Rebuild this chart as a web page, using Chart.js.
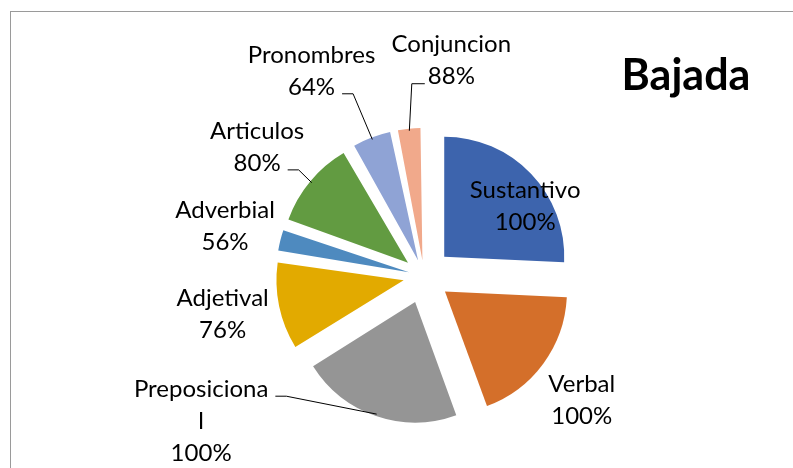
<!DOCTYPE html>
<html>
<head>
<meta charset="utf-8">
<script src="https://cdn.jsdelivr.net/npm/chart.js@4.4.1/dist/chart.umd.min.js"></script>
<style>
    html, body { margin: 0; padding: 0; background: #fff; overflow: hidden; }
    #wrap { position: relative; width: 793px; height: 468px; overflow: hidden; }
    #frame { position: absolute; left: 10px; top: 11px; width: 820px; height: 520px; border: 1px solid #9a9a9a; }
    #chart { position: absolute; left: 0; top: 0; }
</style>
</head>
<body>
<div id="wrap">
    <div id="frame"></div>
    <canvas id="chart" width="793" height="468"></canvas>
</div>
<script>
const title = "Bajada"
const categories = ["Sustantivo", "Verbal", "Preposicional", "Adjetival", "Adverbial", "Articulos", "Pronombres", "Conjuncion"]
const values = [25.7, 18.7, 21.6, 11.3, 3.0, 11.3, 5.1, 3.2]
const percentLabels = ["100%", "100%", "100%", "76%", "56%", "80%", "64%", "88%"]

const colors = ['#3d64ad', '#d46f2a', '#959595', '#e2aa00', '#4e8abf', '#629b41', '#8fa3d5', '#f1a98b']

// where excel put each label: distance from pie centre, extra turn (deg), leader line
const labelPlace = [
    { dist: 123, turn: 9 },
    { dist: 201, turn: 2 },
    { dist: 266, turn: 38, leader: { line: 0, side: 'right' } },
    { dist: 205, turn: 1 },
    { dist: 205, turn: 0 },
    { dist: 211, turn: -2, leader: { line: 1, side: 'right' } },
    { dist: 234, turn: -8, leader: { line: 1, side: 'right' } },
    { dist: 217, turn: 13, leader: { line: 1, side: 'left' } },
]

const explode = 28   // px every slice is pulled out
const pieRadius = 120
const labelFont = '24px Lato'
const lineH = 32
const wrapWidth = 140

// chart.js moves an arc by offset/4 * (2 - sin(circ)); undo that so all move the same
function arcShift(offset, circ) {
    return offset / 4 * (2 - Math.sin(Math.min(Math.PI, circ)))
}

function wrapText(ctx, text) {
    if (ctx.measureText(text).width <= wrapWidth) return [text]
    const out = []
    let cur = ''
    for (const ch of text) {
        if (ctx.measureText(cur + ch).width > wrapWidth && cur) {
            out.push(cur)
            cur = ch
        } else {
            cur += ch
        }
    }
    out.push(cur)
    return out
}

const labelPlugin = {
    id: 'excelLabels',
    afterDatasetsDraw(chart) {
        const ctx = chart.ctx
        const arcs = chart.getDatasetMeta(0).data
        ctx.save()
        ctx.font = labelFont
        ctx.fillStyle = '#000'
        ctx.textAlign = 'center'
        ctx.textBaseline = 'middle'

        arcs.forEach((arc, i) => {
            const mid = (arc.startAngle + arc.endAngle) / 2
            const place = labelPlace[i]
            const a = mid + place.turn * Math.PI / 180
            const lx = arc.x + Math.cos(a) * place.dist
            const ly = arc.y + Math.sin(a) * place.dist

            const lines = wrapText(ctx, categories[i]).concat([percentLabels[i]])
            const top = ly - (lines.length - 1) * lineH / 2
            lines.forEach((t, k) => ctx.fillText(t, lx, top + k * lineH))

            if (place.leader) {
                const k = place.leader.line
                const w = ctx.measureText(lines[k]).width
                const y = top + k * lineH + 7
                const sx = place.leader.side === 'right' ? lx + w / 2 + 7 : lx - w / 2 - 3
                const kx = place.leader.side === 'right' ? sx + 11 : sx - 13
                const shift = arcShift(arc.options.offset, arc.endAngle - arc.startAngle)
                const r = shift + arc.outerRadius - 2
                const px = arc.x + Math.cos(mid) * r
                const py = arc.y + Math.sin(mid) * r
                ctx.beginPath()
                ctx.strokeStyle = '#000'
                ctx.lineWidth = 1
                ctx.moveTo(sx, y)
                ctx.lineTo(kx, y)
                ctx.lineTo(px, py)
                ctx.stroke()
            }
        })

        ctx.font = 'bold 43px Lato'
        ctx.textBaseline = 'alphabetic'
        ctx.fillText(title, 686, 90)
        ctx.restore()
    }
}

const total = values.reduce((s, v) => s + v, 0)

new Chart(document.getElementById('chart'), {
    type: 'pie',
    data: {
        labels: categories,
        datasets: [{
            data: values,
            backgroundColor: colors,
            borderWidth: 0,
            offset: (c) => {
                const circ = 2 * Math.PI * c.raw / total
                return 4 * explode / (2 - Math.sin(Math.min(Math.PI, circ)))
            },
        }]
    },
    options: {
        responsive: false,
        animation: false,
        events: [],
        radius: pieRadius,
        layout: {
            padding: { left: 55, right: 0, top: 84, bottom: 0 }
        },
        plugins: {
            legend: { display: false },
            tooltip: { enabled: false },
        }
    },
    plugins: [labelPlugin]
})
</script>
</body>
</html>
